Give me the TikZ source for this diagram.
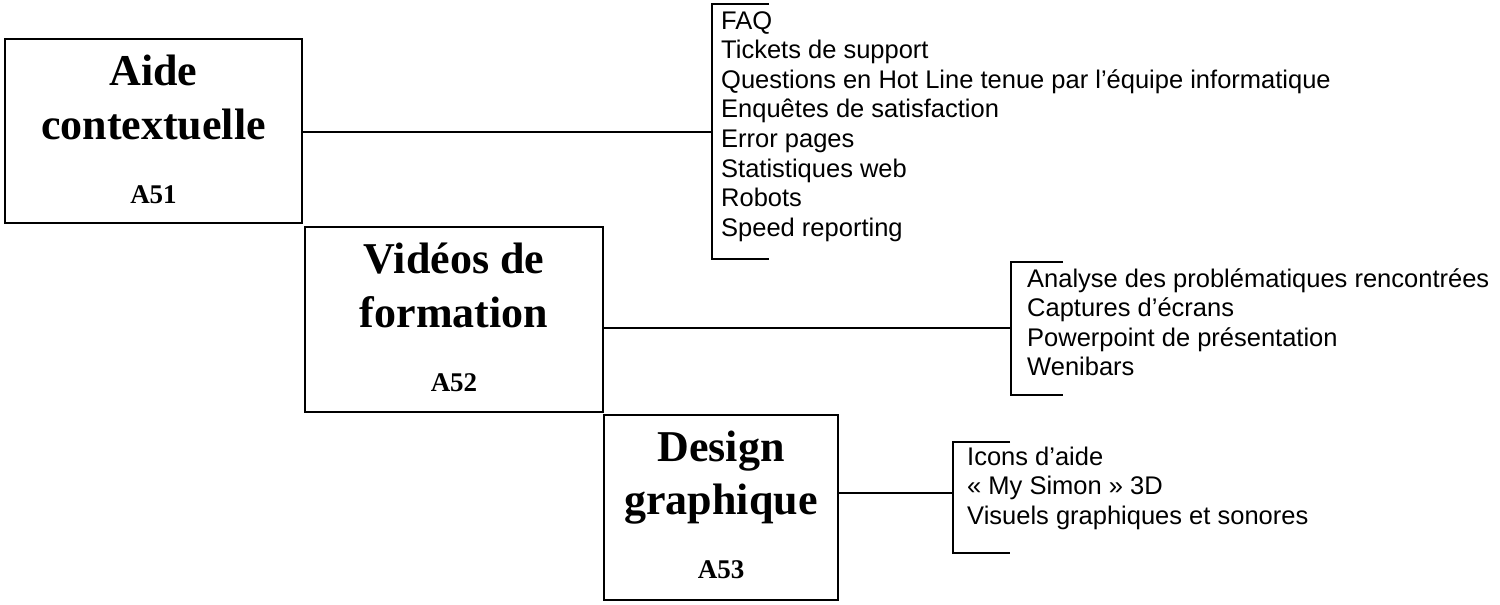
\documentclass[tikz,border=0pt]{standalone}
\usepackage{fontspec}
\setmainfont{Liberation Serif}
\newfontfamily\arialfont{Liberation Sans}
\begin{document}
\begin{tikzpicture}[x=1pt,y=-1pt,
  box/.style={draw, line width=2pt, inner sep=0pt},
  ttl/.style={font=\fontsize{44}{54}\selectfont\bfseries, anchor=base, inner sep=0pt},
  code/.style={font=\fontsize{27}{30}\selectfont\bfseries, anchor=base, inner sep=0pt},
  item/.style={font=\arialfont\fontsize{25.5}{29}\selectfont, anchor=base west, inner sep=0pt},
  wire/.style={line width=1.5pt}]
\useasboundingbox (0,0) rectangle (1500,605);
% boxes
\node[box, minimum width=297pt, minimum height=184pt] (b1) at (153.5,131) {};
\node[box, minimum width=298pt, minimum height=185pt] (b2) at (454,319.5) {};
\node[box, minimum width=234pt, minimum height=185pt] (b3) at (721,507.5) {};
% titles
\node[ttl] (t1a) at (153.5,85) {Aide};
\node[ttl] (t1b) at (153.5,139) {contextuelle};
\node[code] (c1) at (153.5,203) {A51};
\node[ttl] (t2a) at (454,273) {Vidéos de};
\node[ttl] (t2b) at (454,327) {formation};
\node[code] (c2) at (454,391) {A52};
\node[ttl] (t3a) at (721,461) {Design};
\node[ttl] (t3b) at (721,514) {graphique};
\node[code] (c3) at (721,578) {A53};
% brackets
\draw[wire] (769,4) -- (712,4) -- (712,259) -- (769,259);
\draw[wire] (1063,262) -- (1011,262) -- (1011,395) -- (1063,395);
\draw[wire] (1010,442) -- (953,442) -- (953,553) -- (1010,553);
\coordinate (j1) at (712,132);
\coordinate (j2) at (1011,328);
\coordinate (j3) at (953,493);
\draw[wire] (b1.east |- j1) -- (j1);
\draw[wire] (b2.east |- j2) -- (j2);
\draw[wire] (b3.east |- j3) -- (j3);
% lists
\foreach \t [count=\i] in {FAQ, Tickets de support, Questions en Hot Line tenue par l’équipe informatique, Enquêtes de satisfaction, Error pages, Statistiques web, Robots, Speed reporting}
  \node[item] (la\i) at (721,{29+29.6*(\i-1)}) {\t};
\foreach \t [count=\i] in {Analyse des problématiques rencontrées, Captures d’écrans, Powerpoint de présentation, Wenibars}
  \node[item] (lb\i) at (1027,{287+29.6*(\i-1)}) {\t};
\foreach \t [count=\i] in {Icons d’aide, « My Simon » 3D, Visuels graphiques et sonores}
  \node[item] (lc\i) at (967,{465+29.5*(\i-1)}) {\t};
\end{tikzpicture}
\end{document}
